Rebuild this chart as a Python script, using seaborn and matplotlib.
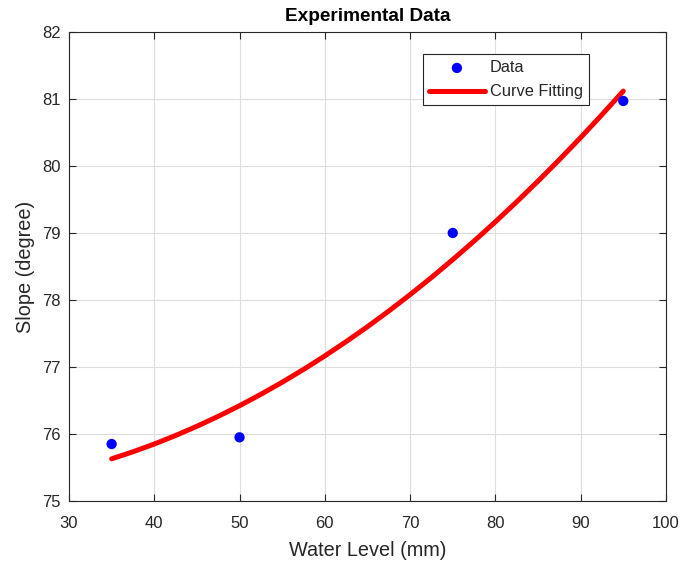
import matplotlib
matplotlib.use("Agg")
import matplotlib.pyplot as plt
import seaborn as sns
import pandas as pd

# Data points
water_level = [35, 50, 75, 95]
slope = [75.85, 75.95, 79.00, 80.97]

# Fitted curve values
fit_x = [35, 37.5, 40, 42.5, 45, 47.5, 50, 52.5, 55, 57.5, 60, 62.5, 65,
         67.5, 70, 72.5, 75, 77.5, 80, 82.5, 85, 87.5, 90, 92.5, 95]
fit_y = [75.629, 75.734, 75.850, 75.977, 76.115, 76.263, 76.422, 76.592,
         76.772, 76.963, 77.165, 77.378, 77.601, 77.835, 78.080, 78.335,
         78.602, 78.879, 79.166, 79.465, 79.774, 80.094, 80.424, 80.766,
         81.118]

x_ticks = [30, 40, 50, 60, 70, 80, 90, 100]
y_ticks = [75, 76, 77, 78, 79, 80, 81, 82]

sns.set_theme(style="whitegrid")
plt.rcParams["font.family"] = ["Liberation Sans", "DejaVu Sans"]

fig = plt.figure(figsize=(6.83, 5.61), dpi=100)
ax = fig.add_axes([0.101, 0.107, 0.874, 0.836])
ax.set_facecolor("white")

df_pts = pd.DataFrame({"x": water_level, "y": slope})
df_fit = pd.DataFrame({"x": fit_x, "y": fit_y})

sns.lineplot(data=df_fit, x="x", y="y", ax=ax, color="#ff0000", linewidth=3.6,
             label="Curve Fitting", zorder=3, sort=True)
sns.scatterplot(data=df_pts, x="x", y="y", ax=ax, color="#0000ff", s=55,
                edgecolor="none", label="Data", zorder=4)

ax.set_xlim(30, 100)
ax.set_ylim(75, 82)
ax.set_xticks(x_ticks)
ax.set_yticks(y_ticks)
ax.grid(True, color="#dedede", linewidth=0.8)
for s in ax.spines.values():
    s.set_visible(True)
    s.set_color("#262626")
    s.set_linewidth(0.8)
ax.tick_params(axis="both", which="both", direction="in", length=5, width=0.8,
               colors="#262626", labelsize=12, top=True, right=True,
               bottom=True, left=True)
ax.tick_params(axis="x", pad=11)
ax.tick_params(axis="y", pad=5.8)
for lab in ax.get_xticklabels() + ax.get_yticklabels():
    lab.set_color("#262626")

ax.set_xlabel("Water Level (mm)", fontsize=14.3, color="#262626", labelpad=7)
ax.set_ylabel("Slope (degree)", fontsize=14.3, color="#262626", labelpad=5.5)
ax.set_title("Experimental Data", fontsize=13.7, fontweight="bold", color="black", pad=8)

handles, labels = ax.get_legend_handles_labels()
order = [labels.index("Data"), labels.index("Curve Fitting")]
leg = ax.legend([handles[i] for i in order], [labels[i] for i in order],
                loc="upper right", bbox_to_anchor=(0.871, 0.953), fontsize=11.8,
                frameon=True, fancybox=False, edgecolor="#262626", framealpha=1,
                handlelength=3.4, handletextpad=0.3, borderpad=0.38,
                labelspacing=0.55, borderaxespad=0)
leg.get_frame().set_linewidth(0.8)

fig.savefig("out.png", dpi=100, facecolor="white")
